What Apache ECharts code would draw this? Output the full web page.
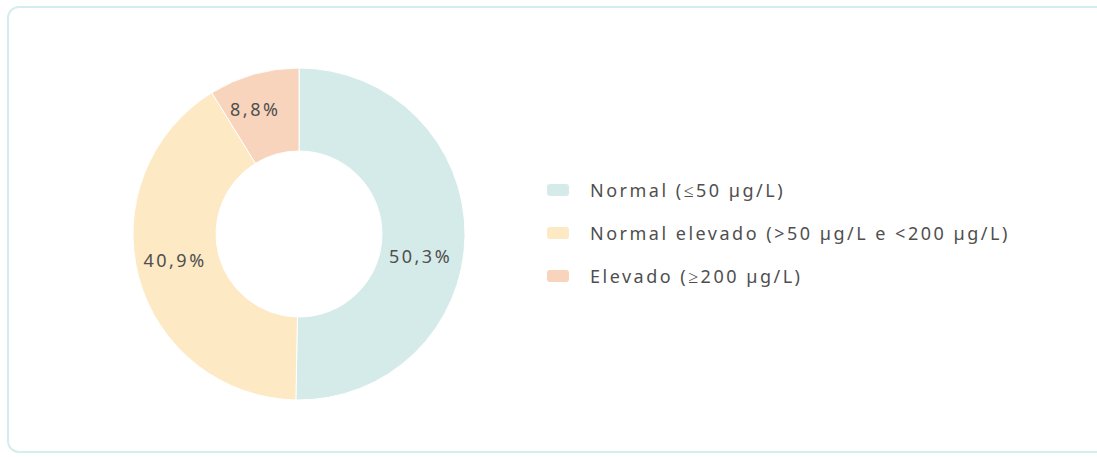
<!DOCTYPE html>
<html>
<head>
<meta charset="utf-8">
<script src="https://cdn.jsdelivr.net/npm/echarts@6/dist/echarts.min.js"></script>
<style>
  html, body { margin: 0; padding: 0; background: #fff; overflow: hidden; }
  .card {
    position: absolute; left: 7px; top: 6px; width: 1110px; height: 447px;
    border: 2px solid #d4eeec; border-radius: 12px; box-sizing: border-box;
  }
  #chart { position: absolute; left: 0; top: 0; width: 1097px; height: 457px; }
  #chart text { letter-spacing: 2.5px; }
</style>
</head>
<body>
<div class="card"></div>
<div id="chart"></div>
<script>
var categories = ['Normal (≤50 µg/L)', 'Normal elevado (>50 µg/L e <200 µg/L)', 'Elevado (≥200 µg/L)'];
var values = [50.3, 40.9, 8.8];
var colors = ['#d5ebe9', '#fde9c4', '#f8d4bc'];

// nudges so the labels sit where the original puts them
var labelOffsets = [[-6, 21], [-1, -8], [-9, -2]];

var myChart = echarts.init(document.getElementById('chart'), null, { renderer: 'svg' });
var option = {
    color: colors,
    legend: {
        orient: 'vertical',
        left: 547,
        top: 181,
        padding: 0,
        itemWidth: 22,
        itemHeight: 12,
        itemGap: 25,
        icon: 'roundRect',
        itemStyle: { borderWidth: 0 },
        textStyle: { color: '#4f4f4f', fontSize: 18, fontFamily: 'Noto Sans', padding: [0, 0, 0, 16] },
        data: categories
    },
    series: [{
        type: 'pie',
        center: [299, 234],
        radius: [83, 166],
        startAngle: 90,
        clockwise: true,
        avoidLabelOverlap: false,
        itemStyle: { borderColor: '#fff', borderWidth: 1 },
        label: {
            show: true,
            position: 'inside',
            color: '#4f4f4f',
            fontSize: 18,
            fontFamily: 'Noto Sans',
            formatter: function (p) { return p.value.toFixed(1).replace('.', ',') + '%'; }
        },
        labelLine: { show: false },
        emphasis: { disabled: true },
        data: categories.map(function (c, i) {
            return { name: c, value: values[i], label: { offset: labelOffsets[i] } };
        })
    }]
};
myChart.setOption(option);
</script>
</body>
</html>
